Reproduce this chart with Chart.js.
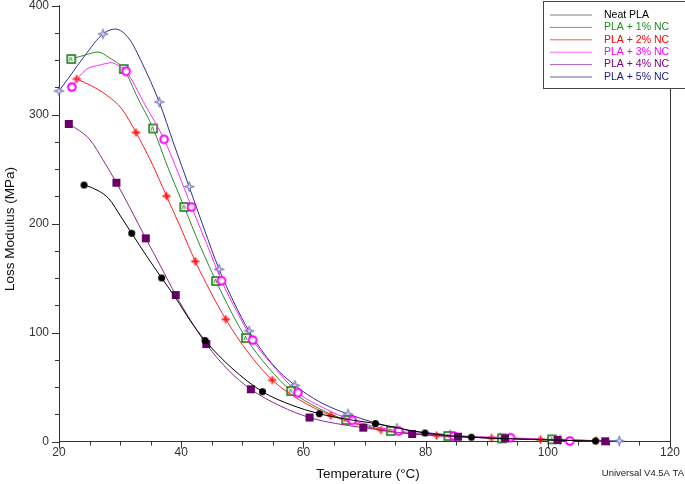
<!DOCTYPE html>
<html>
<head>
<meta charset="utf-8">
<script src="https://cdn.jsdelivr.net/npm/chart.js@4.4.0/dist/chart.umd.min.js"></script>
<style>
  html, body { margin: 0; padding: 0; background: #fff; }
  #chart { display: block; }
</style>
</head>
<body>
<canvas id="chart" width="685" height="484"></canvas>
<script>
// ------------------------------------------------------------
// Data: temperature (°C) vs loss modulus (MPa)
// *Mark arrays: 1 = the original draws a symbol at that point
// ------------------------------------------------------------
const neatTemp = [24.1, 25.1, 28.1, 30.3, 31.9, 34.3, 36.8, 39.1, 41.4, 43.9, 48.3, 53.3, 57.8, 62.6, 67.1, 71.8, 79.9, 87.5, 94.6, 101.3, 107.8];
const neatMod  = [235.3, 233.5, 223.1, 204.8, 191.0, 170.5, 150.0, 131.7, 111.5, 92.7, 67.3, 45.7, 34.0, 25.5, 20.4, 16.5, 7.8, 3.9, 2.3, 1.2, 0.5];
const neatMark = [1, 0, 0, 0, 1, 0, 1, 0, 0, 1, 0, 1, 0, 1, 0, 1, 1, 1, 0, 0, 1];

const nc1Temp = [22.0, 24.3, 26.4, 28.3, 30.6, 32.9, 35.4, 37.8, 40.5, 43.1, 45.7, 48.2, 50.6, 54.2, 58.0, 62.4, 67.0, 74.3, 83.7, 92.5, 100.7, 108.5];
const nc1Mod  = [350.9, 354.6, 357.3, 351.8, 341.7, 315.0, 287.2, 251.8, 215.1, 179.4, 147.2, 118.8, 94.9, 68.3, 46.3, 30.7, 19.7, 9.6, 5.0, 2.9, 2.0, 0.6];
const nc1Mark = [1, 0, 0, 0, 1, 0, 1, 0, 1, 0, 1, 0, 1, 0, 1, 0, 1, 1, 1, 1, 1, 0];

const nc2Temp = [22.9, 25.4, 28.0, 30.3, 32.6, 35.1, 37.6, 40.0, 42.3, 44.7, 47.3, 50.9, 54.9, 59.4, 64.5, 72.7, 81.8, 90.8, 98.8, 107.9];
const nc2Mod  = [332.6, 326.1, 317.0, 305.0, 283.5, 256.4, 225.2, 195.0, 165.3, 138.5, 112.1, 82.1, 56.4, 38.1, 23.9, 10.6, 5.5, 3.2, 1.8, 0.9];
const nc2Mark = [1, 0, 0, 0, 1, 0, 1, 0, 1, 0, 1, 0, 1, 0, 1, 1, 1, 1, 1, 1];

const nc3Temp = [22.1, 22.9, 24.5, 26.7, 28.6, 30.0, 31.0, 34.1, 37.2, 39.5, 41.7, 44.2, 46.6, 49.1, 51.7, 55.4, 59.1, 63.5, 68.0, 75.6, 84.6, 93.9, 103.6];
const nc3Mod  = [325.2, 331.7, 341.5, 345.4, 347.5, 343.9, 339.6, 308.7, 277.2, 246.5, 215.1, 181.0, 147.5, 119.3, 93.1, 67.0, 44.8, 30.3, 19.4, 9.6, 5.0, 3.5, 0.5];
const nc3Mark = [1, 0, 0, 0, 0, 0, 1, 0, 1, 0, 1, 0, 1, 0, 1, 0, 1, 0, 1, 1, 1, 1, 1];

const nc4Temp = [21.6, 23.4, 25.1, 27.2, 29.4, 31.8, 34.2, 36.7, 39.1, 41.6, 44.1, 47.7, 51.4, 56.2, 61.0, 65.3, 69.8, 77.8, 85.3, 93.0, 101.6, 109.4];
const nc4Mod  = [291.3, 284.9, 276.6, 258.3, 237.4, 212.4, 186.4, 160.1, 134.4, 110.6, 89.4, 65.6, 47.9, 32.6, 22.0, 16.5, 12.7, 6.9, 4.4, 2.9, 1.4, 0.2];
const nc4Mark = [1, 0, 0, 0, 1, 0, 1, 0, 1, 0, 1, 0, 1, 0, 1, 0, 1, 1, 1, 1, 1, 1];

const nc5Temp = [20.0, 21.8, 24.3, 27.2, 29.2, 31.5, 33.6, 36.4, 38.8, 41.3, 43.7, 46.2, 48.6, 51.1, 54.9, 58.6, 62.7, 67.3, 75.3, 84.0, 92.2, 102.0, 111.7];
const nc5Mod  = [321.6, 335.3, 354.6, 373.9, 378.4, 369.3, 347.2, 311.5, 272.9, 233.8, 195.9, 158.0, 128.0, 101.4, 71.1, 51.6, 36.2, 25.2, 12.1, 6.0, 3.2, 1.4, 0.5];
const nc5Mark = [1, 0, 0, 1, 0, 0, 0, 1, 0, 1, 0, 1, 0, 1, 0, 1, 0, 1, 1, 1, 1, 1, 1];

const seriesNames = ['Neat PLA', 'PLA + 1% NC', 'PLA + 2% NC', 'PLA + 3% NC', 'PLA + 4% NC', 'PLA + 5% NC'];
const xTicks = [20, 40, 60, 80, 100, 120];
const yTicks = [0, 100, 200, 300, 400];

const FONT = "'Liberation Sans', Arial, sans-serif";

// ---------------------------------------------------------------
// little canvas symbols, same look as the TA Universal Analysis ones
// ---------------------------------------------------------------
function makeMarker(size, draw) {
  const c = document.createElement('canvas');
  c.width = size; c.height = size;
  draw(c.getContext('2d'), size / 2);
  return c;
}

const dotMarker = makeMarker(9, (g, m) => {
  g.fillStyle = '#000';
  g.beginPath(); g.arc(m, m, 3.5, 0, Math.PI * 2); g.fill();
});

const squareOpenMarker = makeMarker(12, (g, m) => {
  g.fillStyle = '#f4fbe8';
  g.fillRect(m - 4, m - 4, 8, 8);
  g.strokeStyle = '#1d7a1d';
  g.lineWidth = 1.6;
  g.strokeRect(m - 4, m - 4, 8, 8);
  g.lineWidth = 0.8;
  g.beginPath(); g.moveTo(m - 2, m + 2); g.lineTo(m - 0.5, m - 2); g.lineTo(m + 1, m + 2); g.stroke();
});

const plusMarker = makeMarker(11, (g, m) => {
  g.strokeStyle = '#ff1a1a';
  g.lineWidth = 1.8;
  g.beginPath();
  g.moveTo(m - 4, m); g.lineTo(m + 4, m);
  g.moveTo(m, m - 4); g.lineTo(m, m + 4);
  g.stroke();
  g.lineWidth = 0.8;
  g.beginPath();
  g.moveTo(m - 2.2, m - 2.2); g.lineTo(m + 2.2, m + 2.2);
  g.moveTo(m + 2.2, m - 2.2); g.lineTo(m - 2.2, m + 2.2);
  g.stroke();
});

const ringMarker = makeMarker(12, (g, m) => {
  g.fillStyle = '#fff';
  g.strokeStyle = '#ff00ff';
  g.lineWidth = 2;
  g.beginPath(); g.arc(m, m, 3.8, 0, Math.PI * 2); g.fill(); g.stroke();
});

const squareFilledMarker = makeMarker(10, (g, m) => {
  g.fillStyle = '#680068';
  g.fillRect(m - 4, m - 4, 8, 8);
});

const starMarker = makeMarker(13, (g, m) => {
  const ro = 5, ri = 1.5;
  g.beginPath();
  for (let i = 0; i < 8; i++) {
    const a = -Math.PI / 2 + i * Math.PI / 4;
    const r = i % 2 === 0 ? ro : ri;
    const px = m + r * Math.cos(a), py = m + r * Math.sin(a);
    if (i === 0) g.moveTo(px, py); else g.lineTo(px, py);
  }
  g.closePath();
  g.fillStyle = '#e6e6f8';
  g.fill();
  g.strokeStyle = '#6060a8';
  g.lineWidth = 1;
  g.stroke();
});

function pts(temps, mods) {
  return temps.map((t, i) => ({ x: t, y: mods[i] }));
}

function series(label, temps, mods, marks, color, marker, order) {
  return {
    label: label,
    data: pts(temps, mods),
    borderColor: color,
    backgroundColor: color,
    borderWidth: 1,
    showLine: true,
    cubicInterpolationMode: 'monotone',
    pointStyle: marker,
    pointRadius: ctx => marks[ctx.dataIndex] ? 5 : 0,
    pointHoverRadius: 0,
    clip: 10,
    order: order,
  };
}

const datasets = [
  series(seriesNames[0], neatTemp, neatMod, neatMark, '#000000', dotMarker, 1),
  series(seriesNames[1], nc1Temp, nc1Mod, nc1Mark, '#2d8a2d', squareOpenMarker, 5),
  series(seriesNames[2], nc2Temp, nc2Mod, nc2Mark, '#ff2020', plusMarker, 4),
  series(seriesNames[3], nc3Temp, nc3Mod, nc3Mark, '#ff2bff', ringMarker, 3),
  series(seriesNames[4], nc4Temp, nc4Mod, nc4Mark, '#8e2a8e', squareFilledMarker, 2),
  series(seriesNames[5], nc5Temp, nc5Mod, nc5Mark, '#2f2f8c', starMarker, 6),
];

const legendColors = ['#000000', '#228b22', '#ff0000', '#ff00ff', '#800080', '#1c1c80'];
const legendLines = ['#000000', '#2d8a2d', '#ff2020', '#ff2bff', '#8e2a8e', '#2f2f8c'];

// ---------------------------------------------------------------
// extras: minor/major tick marks, right frame line, titles, legend box
// ---------------------------------------------------------------
const decor = {
  id: 'decor',
  afterDraw(chart) {
    const ctx = chart.ctx;
    const area = chart.chartArea;
    const xs = chart.scales.x, ys = chart.scales.y;
    ctx.save();
    ctx.strokeStyle = '#333';
    ctx.lineWidth = 1;

    ctx.beginPath();
    for (let v = 0; v <= 400; v += 25) {
      const py = Math.round(ys.getPixelForValue(v)) + 0.5;
      const len = v % 100 === 0 ? 7 : 4;
      ctx.moveTo(area.left - len, py); ctx.lineTo(area.left, py);
    }
    for (let v = 20; v <= 120; v += 5) {
      const px = Math.round(xs.getPixelForValue(v)) + 0.5;
      const len = v % 20 === 0 ? 7 : 4;
      ctx.moveTo(px, area.bottom); ctx.lineTo(px, area.bottom + len);
    }
    // right frame
    const rx = Math.round(area.right) + 0.5;
    ctx.moveTo(rx, area.top); ctx.lineTo(rx, area.bottom);
    ctx.stroke();

    // axis titles
    ctx.fillStyle = '#111';
    ctx.font = '13.5px ' + FONT;
    ctx.textAlign = 'center';
    ctx.textBaseline = 'middle';
    ctx.fillText('Temperature (°C)', 368, 474);
    ctx.save();
    ctx.translate(10, 229);
    ctx.rotate(-Math.PI / 2);
    ctx.fillText('Loss Modulus (MPa)', 0, 0);
    ctx.restore();

    ctx.font = '9.5px ' + FONT;
    ctx.textAlign = 'right';
    ctx.fillStyle = '#222';
    ctx.fillText('Universal V4.5A TA', 684, 473);

    // legend box
    ctx.fillStyle = '#fff';
    ctx.fillRect(543, 1, 150, 87);
    ctx.strokeStyle = '#444';
    ctx.strokeRect(543.5, 1.5, 150, 87);
    ctx.font = '10.5px ' + FONT;
    ctx.textAlign = 'left';
    seriesNames.forEach((name, i) => {
      const y = 15 + i * 12.4;
      ctx.strokeStyle = legendLines[i];
      ctx.globalAlpha = i === 0 ? 0.5 : 0.75;
      ctx.beginPath(); ctx.moveTo(550, y); ctx.lineTo(592, y); ctx.stroke();
      ctx.globalAlpha = 1;
      ctx.fillStyle = legendColors[i];
      ctx.fillText(name, 604, y);
    });
    ctx.restore();
  }
};

// fixed axis boxes, no automatic label-overflow padding
function fixY(s) { s.width = 59; s.paddingTop = 0; s.paddingBottom = 0; }
function fixX(s) { s.height = 42.5; s.paddingLeft = 0; s.paddingRight = 0; }

new Chart(document.getElementById('chart'), {
  type: 'scatter',
  data: { datasets },
  plugins: [decor],
  options: {
    responsive: false,
    animation: false,
    devicePixelRatio: 1,
    events: [],
    layout: { autoPadding: false, padding: { top: 5.5, right: 15, left: 0, bottom: 0 } },
    plugins: { legend: { display: false }, tooltip: { enabled: false } },
    scales: {
      x: {
        type: 'linear',
        min: 20, max: 120,
        afterFit: fixX,
        afterBuildTicks: s => { s.ticks = xTicks.map(v => ({ value: v })); },
        grid: { drawOnChartArea: false, drawTicks: false },
        border: { color: '#333', width: 1 },
        ticks: { padding: 4, color: '#333', font: { family: FONT, size: 12 } },
      },
      y: {
        type: 'linear',
        min: 0, max: 400,
        afterFit: fixY,
        afterBuildTicks: s => { s.ticks = yTicks.map(v => ({ value: v })); },
        grid: { drawOnChartArea: false, drawTicks: false },
        border: { color: '#333', width: 1 },
        ticks: { padding: 10, color: '#333', font: { family: FONT, size: 12 } },
      },
    },
  },
});
</script>
</body>
</html>
